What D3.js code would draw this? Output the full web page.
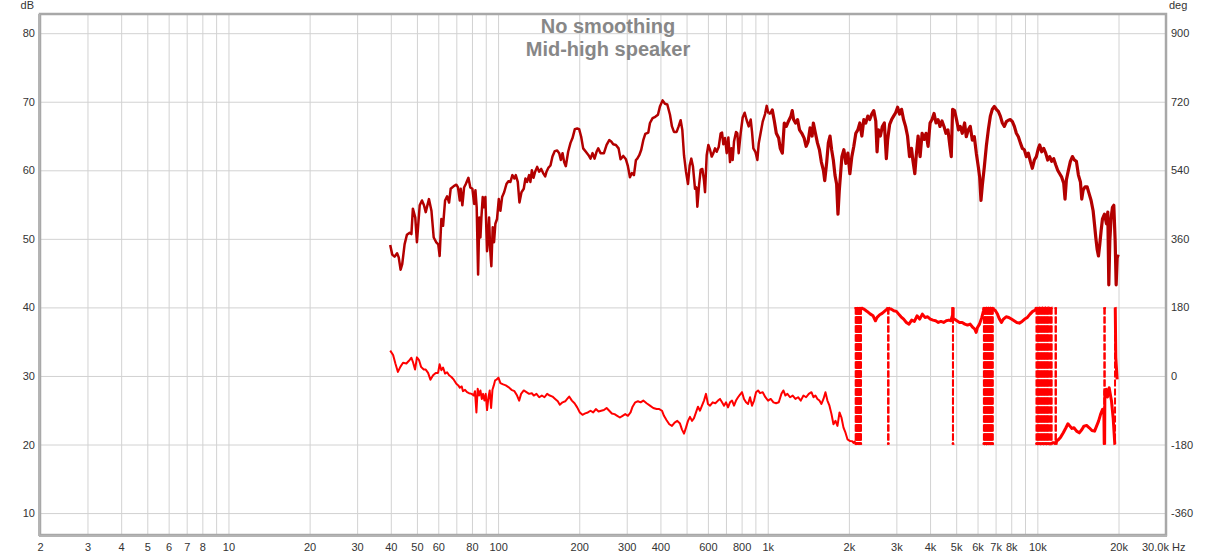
<!DOCTYPE html>
<html><head><meta charset="utf-8">
<script src="https://cdn.jsdelivr.net/npm/d3@7"></script>
<style>
body{margin:0;background:#fff;}
svg text{font-family:"Liberation Sans",Arial,sans-serif;}
</style></head><body>
<svg id="chart" width="1216" height="556"></svg>
<script>
const titleLines = ["No smoothing", "Mid-high speaker"];
const dbTicks = [10, 20, 30, 40, 50, 60, 70, 80];
const degTicks = [-360, -180, 0, 180, 360, 540, 720, 900];
const xGridValues = [2,3,4,5,6,7,8,9,10,20,30,40,50,60,70,80,90,100,200,300,400,500,600,700,800,900,1000,2000,3000,4000,5000,6000,7000,8000,9000,10000,20000];
const xTickValues = [2,3,4,5,6,7,8,10,20,30,40,50,60,80,100,200,300,400,600,800,1000,2000,3000,4000,5000,6000,7000,8000,10000,20000];
const xTickText = ["2","3","4","5","6","7","8","10","20","30","40","50","60","80","100","200","300","400","600","800","1k","2k","3k","4k","5k","6k","7k","8k","10k","20k"];

const magFreq = [39.8,40.5,41.3,42.2,42.8,43.5,44.1,45.0,45.9,47.0,47.7,48.3,49.3,50.0,51.2,52.2,53.1,53.9,55.4,56.6,57.7,59.0,60.0,60.7,61.6,62.5,63.6,64.7,65.8,66.7,68.5,70.0,71.0,72.1,72.7,73.7,74.8,75.9,77.6,78.9,80.3,81.5,82.4,83.3,84.3,85.2,86.0,86.7,87.7,88.7,89.7,91.0,91.8,92.6,93.4,94.4,95.5,96.6,97.7,99.1,100.6,102.0,103.5,105.3,107.4,109.2,111.1,113.0,115.0,116.3,118.3,120.0,122.1,124.5,126.3,128.1,130.3,131.8,133.4,135.3,137.2,139.6,142.0,144.5,146.9,149.5,151.2,153.8,156.4,159.1,162.3,165.6,168.5,170.9,173.4,175.8,178.3,181.9,185.6,188.8,192.6,196.5,199.8,203.3,206.8,211.6,216.5,220.2,224.0,227.9,231.8,235.2,239.9,246.9,252.6,258.4,262.8,267.3,273.5,279.8,284.6,291.2,297.9,303.0,308.3,313.6,319.0,324.5,328.3,333.9,339.6,345.5,351.5,360.6,365.8,374.1,382.8,391.6,398.3,407.5,415.8,424.2,434.0,441.4,449.0,459.4,467.3,475.4,482.2,489.2,497.6,506.2,513.4,520.8,528.3,537.4,543.6,548.3,556.2,564.1,572.2,580.4,585.4,593.8,602.3,611.0,619.8,628.6,637.6,646.6,657.9,669.2,676.9,684.6,694.5,704.5,714.5,724.7,733.0,741.3,749.9,762.8,771.5,780.3,793.7,807.4,821.3,835.6,850.1,864.8,874.6,884.7,899.9,915.4,926.0,941.9,958.1,977.5,991.5,1006,1029,1040,1058,1076,1098,1113,1133,1152,1172,1195,1219,1233,1247,1268,1290,1312,1338,1365,1388,1412,1436,1461,1477,1503,1529,1555,1581,1609,1627,1655,1678,1702,1726,1751,1776,1801,1822,1842,1863,1884,1916,1949,1983,2017,2051,2086,2122,2159,2196,2234,2272,2310,2350,2390,2431,2473,2516,2544,2573,2617,2662,2707,2754,2785,2833,2881,2930,2981,3032,3083,3136,3190,3245,3300,3357,3414,3453,3512,3552,3612,3674,3737,3802,3866,3933,4000,4068,4138,4209,4281,4355,4429,4505,4581,4660,4740,4794,4849,4931,5015,5101,5177,5266,5372,5450,5543,5640,5738,5837,5938,6040,6110,6179,6250,6358,6467,6579,6693,6808,6925,7045,7166,7290,7416,7544,7674,7807,7942,8079,8218,8359,8503,8649,8797,8949,9103,9260,9419,9581,9747,9915,10086,10202,10378,10556,10738,10924,11112,11303,11498,11697,11898,12103,12312,12525,12667,12812,13033,13258,13490,13722,13959,14200,14447,14612,14779,15034,15293,15557,15827,16099,16283,16471,16659,16852,17043,17240,17436,17740,18045,18250,18408,18566,18777,18994,19210,19432,19600,19768,19937];
const magDb = [49.1,47.7,47.4,47.9,47.3,45.5,46.3,49.2,50.6,50.9,50.7,54.4,53.1,49.5,54.9,55.6,54.9,53.9,55.8,54.1,50.2,49.5,49.2,47.5,52.9,51.9,55.6,56.2,55.3,57.3,57.7,57.9,57.5,55.6,57.3,54.9,57.5,58.0,58.9,57.5,57.3,55.1,57.1,54.6,44.8,53.1,50.2,53.1,56.1,54.6,56.1,48.2,50.2,53.1,48.7,46.0,51.7,49.5,52.2,52.9,55.8,54.1,56.1,56.8,58.0,58.4,58.3,59.3,58.8,59.3,58.3,55.3,56.8,57.3,58.8,58.3,59.3,58.3,60.0,58.9,59.8,60.5,59.8,60.2,59.6,59.1,59.8,60.4,60.7,62.0,62.8,62.9,62.5,61.5,62.5,61.2,60.6,62.7,64.0,64.7,66.0,66.1,66.0,64.9,63.2,62.7,62.2,61.7,62.5,61.7,62.7,63.2,62.5,62.5,63.7,64.4,64.2,63.8,63.7,63.2,61.6,62.1,61.6,60.6,59.0,59.6,59.3,61.5,61.7,62.2,63.0,64.4,65.3,65.5,66.9,67.6,67.8,68.1,69.3,70.2,69.7,69.6,68.1,66.4,65.6,65.6,66.4,67.3,65.9,62.2,59.8,58.0,60.7,61.7,60.5,57.3,57.5,54.7,57.8,60.1,60.2,58.5,56.8,62.2,63.7,63.0,62.0,62.5,63.2,62.7,63.4,65.4,65.5,63.8,64.7,62.5,64.8,61.2,63.2,61.5,64.2,65.6,65.4,62.5,65.4,67.7,68.4,67.3,66.4,67.4,65.6,63.2,62.7,61.5,63.9,65.5,67.1,68.2,69.4,68.3,68.4,68.8,67.2,65.4,64.7,63.2,62.5,66.9,66.4,67.2,67.9,68.7,67.4,66.9,67.4,65.9,65.4,64.7,63.5,64.2,66.2,65.0,66.9,65.4,64.0,63.0,61.2,60.0,58.5,61.2,64.0,65.0,63.0,61.5,59.3,58.0,53.6,57.0,59.5,62.0,63.0,61.0,62.5,59.5,62.0,63.5,65.4,65.9,66.9,65.0,67.4,66.9,67.9,67.4,68.2,68.7,67.2,62.7,65.9,65.0,66.4,66.9,61.7,64.5,66.7,67.4,67.9,68.4,69.2,68.2,68.9,67.4,66.4,65.0,62.0,63.2,61.5,59.5,62.0,65.0,62.0,65.4,64.5,65.4,63.5,66.9,67.4,68.3,66.9,67.4,66.4,67.2,66.4,65.4,65.9,63.5,62.0,68.9,68.7,67.4,65.9,66.4,65.4,66.9,64.9,65.9,66.4,64.4,64.9,62.5,60.5,59.0,55.6,57.8,60.5,63.5,65.9,67.9,68.9,69.3,68.9,68.6,67.9,66.9,66.4,67.1,67.3,67.4,67.1,66.4,65.4,64.9,64.0,63.2,63.0,62.0,62.5,61.3,60.3,61.5,62.0,63.2,63.7,62.7,63.2,62.5,61.5,62.0,61.3,61.7,60.8,60.0,59.5,59.0,58.1,55.8,58.6,60.0,61.3,62.0,61.5,61.3,59.3,58.3,55.8,57.1,57.6,57.6,56.6,55.6,54.1,52.2,50.2,48.5,47.5,49.2,51.2,52.9,53.6,52.2,53.9,43.3,49.7,53.1,54.6,54.9,49.7,43.3,47.2,47.7];

const phaseFreq = [39.8,40.8,41.6,42.5,43.4,44.4,45.7,46.7,47.7,48.3,49.2,50.0,50.9,51.8,53.0,53.9,55.0,56.1,57.4,58.7,59.9,60.7,61.6,62.5,63.6,64.7,65.8,67.1,68.5,70.0,71.2,72.1,73.3,74.1,75.4,76.7,78.0,79.8,81.2,82.1,83.1,84.0,85.0,86.0,87.0,88.0,89.0,90.0,91.0,92.1,93.1,94.2,95.3,96.4,97.5,98.6,100.3,102.0,104.4,106.8,109.2,112.1,115.0,117.6,119.7,121.7,124.5,127.4,130.3,133.4,135.6,138.8,142.0,145.3,148.6,152.0,155.5,159.1,162.8,166.5,169.4,173.4,177.4,180.4,183.5,187.8,192.1,196.5,201.0,205.6,210.4,215.2,220.2,225.3,230.5,235.8,241.2,246.9,252.6,258.4,264.2,270.3,276.6,283.0,289.5,296.2,303.0,310.0,315.3,322.6,330.1,337.7,345.5,355.4,365.8,376.3,387.2,396.0,405.3,412.3,421.7,431.5,441.4,451.6,462.0,472.7,480.6,489.2,497.6,506.2,514.9,523.8,532.8,542.0,551.3,560.8,570.4,580.4,590.2,600.4,611.0,625.0,639.4,654.2,665.4,676.9,688.6,700.5,712.5,724.7,737.3,749.9,762.8,776.0,789.3,802.9,816.7,831.0,845.3,859.9,874.6,889.8,905.1,920.7,936.6,958.1,980.2,1003,1026,1050,1074,1099,1124,1143,1163,1183,1210,1238,1267,1296,1326,1357,1388,1420,1453,1478,1503,1529,1555,1582,1610,1637,1665,1694,1724,1753,1784,1814,1846,1877,1910,1943,1977,2022,2057,2080,2100,2116,2123,2130,2137,2144,2151,2158,2165,2172,2179,2186,2193,2200,2207,2214,2221,2272,2337,2404,2459,2509,2545,2603,2656,2709,2771,2790,2800,2810,2818,2867,2934,3001,3060,3122,3193,3267,3342,3419,3499,3579,3661,3745,3831,3919,4009,4101,4196,4292,4389,4491,4594,4699,4780,4850,4860,4866,4873,4917,5029,5145,5263,5384,5508,5634,5764,5863,5930,5998,6101,6224,6313,6340,6370,6400,6430,6460,6490,6520,6550,6580,6610,6640,6670,6700,6730,6760,6790,6820,6850,6874,6992,7112,7235,7359,7486,7660,7836,8013,8199,8386,8578,8777,8977,9183,9395,9610,9831,9950,10010,10070,10130,10190,10250,10320,10390,10460,10530,10600,10670,10740,10810,10880,10950,11030,11110,11200,11290,11320,11394,11624,11700,11740,11789,11991,12199,12480,12765,12985,13209,13436,13667,13982,14304,14632,14883,15226,15577,15934,16302,16582,16867,17157,17452,17650,17700,17760,17800,18000,18200,18465,18836,19101,19377,19450,19543,19765];
const phaseDeg = [66.5,55.0,32.8,10.6,23.9,34.6,32.8,39.9,47.9,37.2,16.8,48.8,41.7,23.9,16.8,16.8,8.0,-9.8,1.8,8.0,8.0,31.0,15.1,22.2,6.2,9.8,1.8,-2.7,-9.8,-20.4,-24.8,-31.0,-27.5,-39.9,-36.4,-42.6,-45.2,-47.0,-51.4,-39.9,-95.8,-33.7,-51.4,-38.1,-60.3,-47.0,-64.7,-47.0,-89.6,-55.9,-38.1,-84.2,-36.4,-24.8,-11.5,-9.8,-4.4,-18.6,-22.2,-24.8,-29.3,-36.4,-39.9,-51.4,-64.7,-47.0,-38.1,-42.6,-47.0,-45.2,-51.4,-47.0,-55.9,-51.4,-55.9,-47.0,-51.4,-54.1,-60.3,-66.5,-75.4,-69.2,-66.5,-60.3,-54.1,-64.7,-71.8,-82.5,-95.8,-102.0,-98.4,-95.8,-91.3,-95.8,-86.9,-93.1,-91.3,-89.6,-84.2,-91.3,-98.4,-100.2,-104.6,-109.1,-104.6,-100.2,-104.6,-95.8,-80.7,-69.2,-66.5,-69.2,-64.7,-71.8,-78.0,-84.2,-86.9,-86.9,-91.3,-104.6,-116.2,-126.8,-131.2,-122.4,-117.9,-125.0,-140.1,-151.6,-135.7,-117.9,-107.3,-117.9,-110.8,-95.8,-80.7,-91.3,-78.0,-64.7,-47.0,-73.6,-78.0,-69.2,-71.8,-64.7,-60.3,-69.2,-78.0,-69.2,-82.5,-69.2,-64.7,-78.0,-64.7,-55.9,-48.8,-42.6,-60.3,-69.2,-73.6,-55.9,-78.0,-64.7,-42.6,-38.1,-45.2,-42.6,-55.9,-64.7,-60.3,-69.2,-71.8,-69.2,-47.0,-38.1,-51.4,-47.0,-55.9,-51.4,-60.3,-55.9,-64.7,-51.4,-55.9,-47.0,-42.6,-55.9,-51.4,-60.3,-64.7,-73.6,-60.3,-42.6,-64.7,-78.0,-100.2,-126.8,-117.9,-131.2,-95.8,-109.1,-135.7,-149.0,-166.7,-171.1,-171.2,-176,-172,-178,178,-179,179,-178,178,-179,179,-178,178,-179,179,-178,178,-179,179,175.6,169.5,162.4,158.0,144.9,153.7,160.7,164.2,169.5,175.6,179,-179,179,176,175.6,171.2,169.5,162.4,155.4,149.3,140.5,136.1,146.6,143.1,158.0,149.3,162.4,153.7,155.4,149.3,146.6,144.9,140.5,143.1,140.5,144.9,146.6,144.9,160,179,-179,150,149.3,144.9,140.5,140.5,136.1,133.5,136.1,127.3,122.9,114.2,127.3,136.1,153.7,171.2,-178,178,-179,179,-178,178,-179,179,-178,178,-179,179,-178,178,-179,179,-178,178,175.6,171.2,162.4,149.3,140.5,149.3,155.4,153.7,149.3,144.9,140.5,138.7,143.1,149.3,153.7,162.4,169.5,173.0,-178,178,-179,179,-178,178,-179,179,-178,178,-179,179,-178,178,-179,179,-178,178,-179,179,-177,-175.6,-175.6,179,-178,-171.2,-166.8,-160.7,-149.3,-136.1,-125.5,-131.7,-137.8,-136.1,-144.9,-149.3,-140.5,-131.7,-129.9,-136.1,-143.1,-144.9,-131.7,-118.5,-101.0,-87.8,-96.6,-178,179,-40,-35,-55,-30.7,-65.8,-109.7,-179,179,48.3,-8.8];

const svg = d3.select("#chart");
const W = 1216, H = 556;
const L = 40, R = 1166, T = 14, B = 535;

const x = d3.scaleLog().domain([2, 30000]).range([L, R]);
const yDb = d3.scaleLinear().domain([6.8, 82.8]).range([B, T]);
const yDeg = d3.scaleLinear().domain([(6.8 - 30) * 18, (82.8 - 30) * 18]).range([B, T]);

svg.append("rect").attr("width", W).attr("height", H).attr("fill", "#fff");

// grid
const gridColor = "#d2d2d2";
svg.append("g").attr("transform", `translate(${L},0)`)
  .call(d3.axisLeft(yDb).tickValues(dbTicks).tickSize(-(R - L)).tickFormat(""))
  .call(g => g.select(".domain").remove())
  .call(g => g.selectAll("line").attr("stroke", gridColor).attr("stroke-width", 1));
svg.append("g").attr("transform", `translate(0,${B})`)
  .call(d3.axisBottom(x).tickValues(xGridValues).tickSize(-(B - T)).tickFormat(""))
  .call(g => g.select(".domain").remove())
  .call(g => g.selectAll("line").attr("stroke", gridColor).attr("stroke-width", 1));

// title
const title = svg.append("g");
titleLines.forEach((t, i) => {
  title.append("text").attr("x", 608).attr("y", 33 + i * 23)
    .attr("text-anchor", "middle").attr("font-size", 20).attr("font-weight", "bold")
    .attr("fill", "#878787").text(t);
});

// phase with wraps
const pts = phaseFreq.map((f, i) => ({ f, d: phaseDeg[i] }));
const runs = [[pts[0]]];
const wraps = [];
for (let i = 1; i < pts.length; i++) {
  const a = pts[i - 1], b = pts[i];
  if (Math.abs(b.d - a.d) > 180) {
    const up = a.d > 0;
    const bu = up ? b.d + 360 : b.d - 360;
    const edge = up ? 180 : -180;
    const t = (edge - a.d) / (bu - a.d);
    const fc = Math.exp(Math.log(a.f) + t * (Math.log(b.f) - Math.log(a.f)));
    runs[runs.length - 1].push({ f: fc, d: edge });
    wraps.push(fc);
    runs.push([{ f: fc, d: -edge }, b]);
  } else {
    runs[runs.length - 1].push(b);
  }
}
const clip = svg.append("defs").append("clipPath").attr("id", "plotclip");
clip.append("rect").attr("x", L).attr("y", T).attr("width", R - L).attr("height", B - T);

const plot = svg.append("g").attr("clip-path", "url(#plotclip)");
const phaseLine = d3.line().x(p => x(p.f)).y(p => yDeg(p.d));
plot.append("g").selectAll("line").data(wraps).join("line")
  .attr("x1", d => x(d)).attr("x2", d => x(d))
  .attr("y1", yDeg(180)).attr("y2", yDeg(-180))
  .attr("stroke", "#ff0000").attr("stroke-width", 2).attr("stroke-dasharray", "7,2");
plot.append("g").selectAll("path").data(runs).join("path")
  .attr("d", phaseLine).attr("fill", "none").attr("stroke", "#ff0000")
  .attr("stroke-width", r => r[0].f > 2000 ? 3 : 2).attr("stroke-linejoin", "round");

// magnitude: thinner below 1 kHz, denser (thicker) trace above
const magIdx = magDb.map((d, i) => i);
const lowIdx = magIdx.filter(i => magFreq[i] <= 1006);
const highIdx = magIdx.filter(i => magFreq[i] >= 1006);
const magLine = d3.line().x(i => x(magFreq[i])).y(i => yDb(magDb[i]));
plot.append("path").datum(lowIdx).attr("d", magLine)
  .attr("fill", "none").attr("stroke", "#b30000").attr("stroke-width", 2.5)
  .attr("stroke-linejoin", "round");
plot.append("path").datum(highIdx).attr("d", magLine)
  .attr("fill", "none").attr("stroke", "#b30000").attr("stroke-width", 3.2)
  .attr("stroke-linejoin", "round");

// frame
svg.append("rect").attr("x", L).attr("y", T).attr("width", R - L).attr("height", B - T)
  .attr("fill", "none").attr("stroke", "#a8a8a8").attr("stroke-width", 2.5);
svg.append("line").attr("x1", L - 1).attr("x2", L - 1).attr("y1", T).attr("y2", B + 1)
  .attr("stroke", "#b4b4b4").attr("stroke-width", 2);
svg.append("line").attr("x1", L - 1).attr("x2", R + 1).attr("y1", B + 1).attr("y2", B + 1)
  .attr("stroke", "#b4b4b4").attr("stroke-width", 2);

// axes labels
const labColor = "#333";
const fmt = d => String(d);
svg.append("g").attr("transform", `translate(${L},0)`)
  .call(d3.axisLeft(yDb).tickValues(dbTicks).tickFormat(fmt).tickSize(0).tickPadding(5))
  .call(g => g.select(".domain").remove())
  .call(g => g.selectAll("text").attr("font-size", 11).attr("fill", labColor).attr("font-family", "Liberation Sans, Arial, sans-serif"));
svg.append("g").attr("transform", `translate(${R},0)`)
  .call(d3.axisRight(yDeg).tickValues(degTicks).tickFormat(fmt).tickSize(0).tickPadding(5))
  .call(g => g.select(".domain").remove())
  .call(g => g.selectAll("text").attr("font-size", 11).attr("fill", labColor).attr("font-family", "Liberation Sans, Arial, sans-serif"));
svg.append("g").attr("transform", `translate(0,${B})`)
  .call(d3.axisBottom(x).tickValues(xTickValues).tickFormat((d, i) => xTickText[i]).tickSize(0).tickPadding(8))
  .call(g => g.select(".domain").remove())
  .call(g => g.selectAll("text").attr("font-size", 11).attr("fill", labColor).attr("font-family", "Liberation Sans, Arial, sans-serif"));
svg.append("text").attr("x", 1142).attr("y", 551).attr("font-size", 11).attr("fill", labColor).text("30.0k Hz");
svg.append("text").attr("x", 34).attr("y", 9).attr("text-anchor", "end").attr("font-size", 11).attr("fill", labColor).text("dB");
svg.append("text").attr("x", 1169).attr("y", 9).attr("font-size", 11).attr("fill", labColor).text("deg");
</script>
</body></html>
